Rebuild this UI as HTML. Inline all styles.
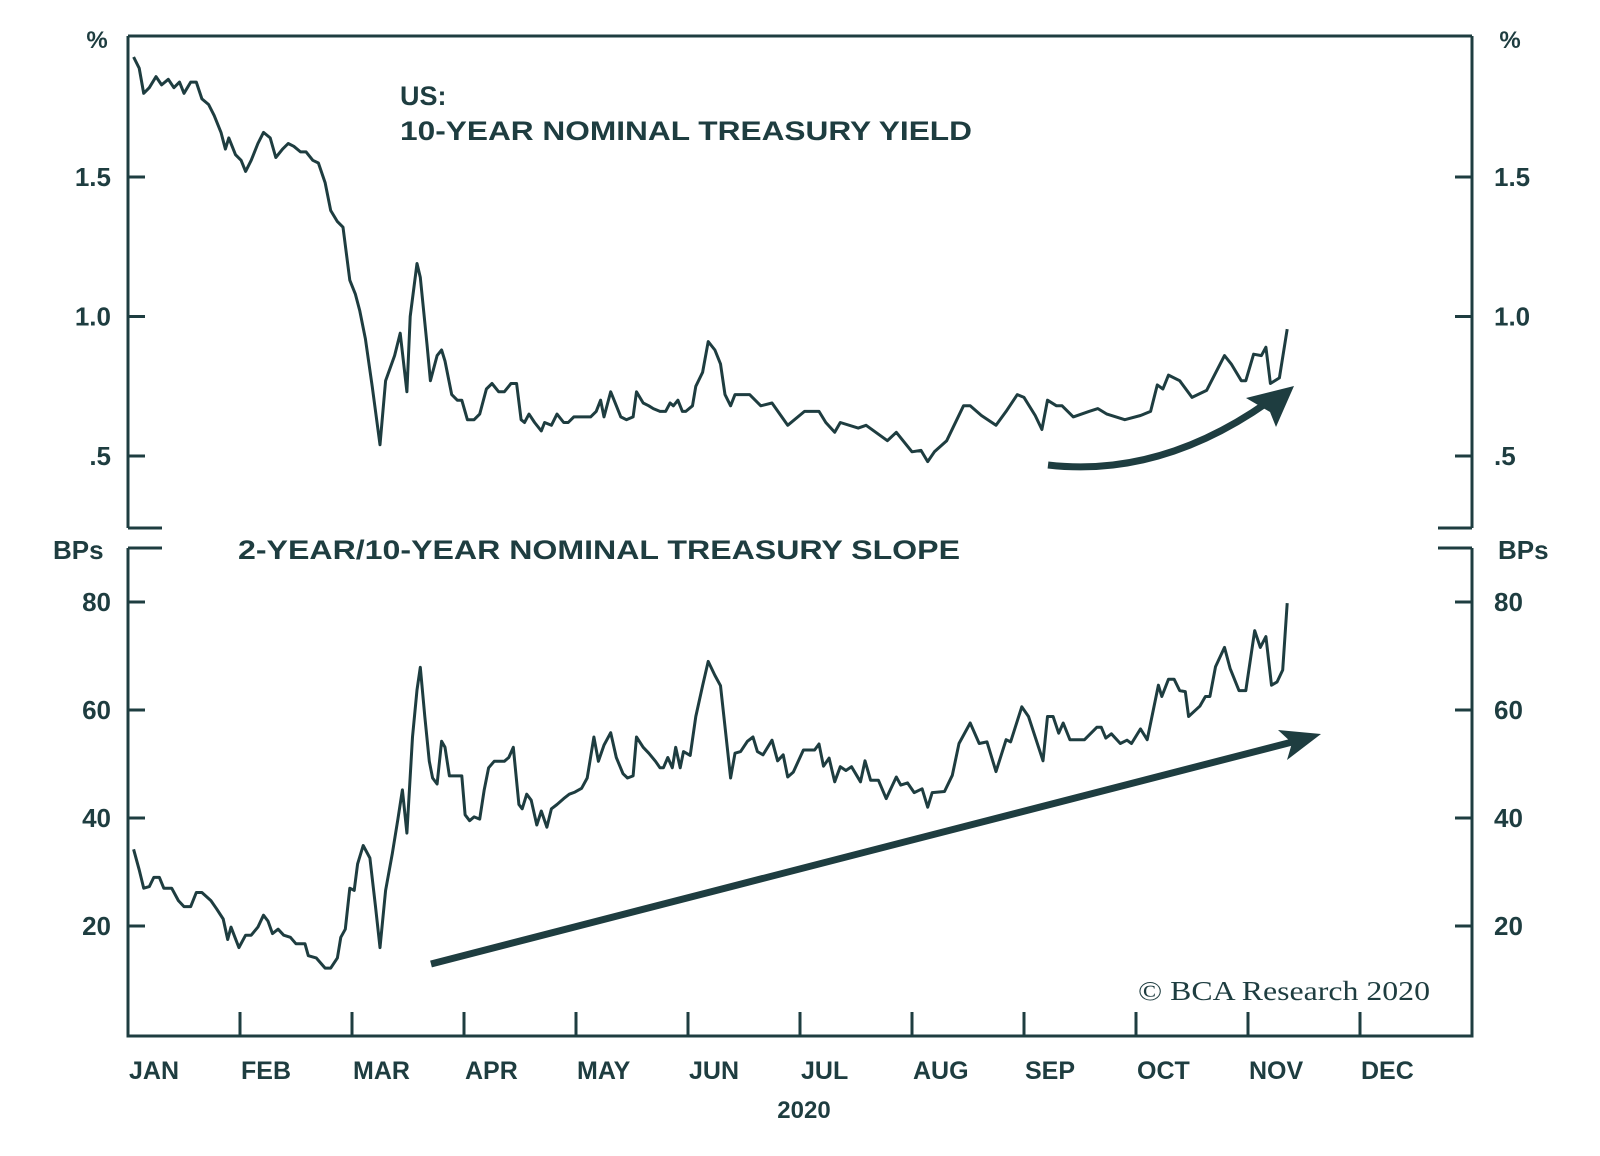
<!DOCTYPE html>
<html><head><meta charset="utf-8"><style>
html,body{margin:0;padding:0;background:#fff;}
svg{display:block;}
text{font-family:"Liberation Sans",sans-serif;fill:#1e3d40;font-weight:bold;}
</style></head><body>
<svg id="chart" width="1600" height="1156" viewBox="0 0 1600 1156" xmlns="http://www.w3.org/2000/svg">
<g id="frame" stroke="#1e3d40" stroke-width="3" fill="none">
  <line x1="128" y1="36" x2="1472" y2="36"/>
  <line x1="128" y1="36" x2="128" y2="528"/>
  <line x1="1472" y1="36" x2="1472" y2="528"/>
  <line x1="128" y1="528" x2="162" y2="528"/>
  <line x1="1438" y1="528" x2="1472" y2="528"/>
  <line x1="128" y1="548" x2="162" y2="548"/>
  <line x1="1438" y1="548" x2="1472" y2="548"/>
  <line x1="128" y1="548" x2="128" y2="1036"/>
  <line x1="1472" y1="548" x2="1472" y2="1036"/>
  <line x1="126.5" y1="1036" x2="1473.5" y2="1036"/>
</g>
<text x="97" y="48" font-size="24" text-anchor="middle">%</text>
<text x="1510" y="48" font-size="24" text-anchor="middle">%</text>
<text x="53" y="559" font-size="26">BPs</text>
<text x="1498" y="559" font-size="26">BPs</text>
<text x="400" y="105" font-size="27">US:</text>
<text x="400" y="140" font-size="27" textLength="572" lengthAdjust="spacingAndGlyphs">10-YEAR NOMINAL TREASURY YIELD</text>
<text x="238" y="559" font-size="27" textLength="722" lengthAdjust="spacingAndGlyphs">2-YEAR/10-YEAR NOMINAL TREASURY SLOPE</text>
<text x="804" y="1118" font-size="24" text-anchor="middle">2020</text>
<text x="1138" y="1000" font-size="27" style="font-family:'Liberation Serif',serif;font-weight:normal" textLength="292" lengthAdjust="spacingAndGlyphs">© BCA Research 2020</text>
<g id="ticks"></g>
<g id="series"></g>
<g id="arrows" fill="#1e3d40" stroke="#1e3d40">
  <path d="M1048,465 Q1160,478 1268,402" fill="none" stroke-width="7"/>
  <polygon points="1294,386 1246,398 1270,412 1276,427" stroke="none"/>
  <line x1="431" y1="964" x2="1300" y2="740" stroke-width="7"/>
  <polygon points="1321,734 1278,730 1292,743 1287,760" stroke="none"/>
</g>
</svg>
<script>
const months = ["JAN","FEB","MAR","APR","MAY","JUN","JUL","AUG","SEP","OCT","NOV","DEC"];
const topTicks = [0.5, 1.0, 1.5];
const topTickLabels = [".5", "1.0", "1.5"];
const botTicks = [20, 40, 60, 80];
const botTickLabels = ["20", "40", "60", "80"];
const yieldDates = [0.05,0.10,0.14,0.19,0.25,0.30,0.36,0.41,0.46,0.50,0.56,0.61,0.66,0.72,0.77,0.83,0.87,0.90,0.96,1.01,1.05,1.10,1.16,1.21,1.27,1.32,1.38,1.43,1.48,1.54,1.59,1.65,1.70,1.76,1.81,1.87,1.92,1.98,2.03,2.07,2.12,2.18,2.25,2.30,2.38,2.43,2.49,2.52,2.58,2.61,2.67,2.70,2.76,2.80,2.83,2.89,2.94,2.98,3.03,3.09,3.14,3.20,3.25,3.31,3.36,3.42,3.47,3.51,3.54,3.58,3.63,3.69,3.72,3.78,3.83,3.89,3.93,3.98,4.05,4.13,4.18,4.22,4.25,4.31,4.34,4.40,4.45,4.51,4.54,4.60,4.65,4.69,4.75,4.80,4.84,4.87,4.91,4.95,4.98,5.04,5.07,5.13,5.18,5.24,5.29,5.33,5.38,5.42,5.47,5.55,5.65,5.75,5.89,6.04,6.17,6.23,6.31,6.36,6.52,6.59,6.78,6.86,7.00,7.08,7.14,7.20,7.31,7.46,7.52,7.62,7.75,7.84,7.94,8.00,8.10,8.16,8.21,8.29,8.34,8.44,8.58,8.66,8.74,8.90,9.04,9.13,9.19,9.24,9.29,9.39,9.50,9.63,9.79,9.85,9.94,9.98,10.05,10.12,10.16,10.20,10.28,10.35];
const yieldValues = [1.93,1.89,1.80,1.82,1.86,1.83,1.85,1.82,1.84,1.80,1.84,1.84,1.78,1.76,1.72,1.66,1.60,1.64,1.58,1.56,1.52,1.56,1.62,1.66,1.64,1.57,1.60,1.62,1.61,1.59,1.59,1.56,1.55,1.48,1.38,1.34,1.32,1.13,1.08,1.02,0.92,0.75,0.54,0.77,0.86,0.94,0.73,1.00,1.19,1.14,0.90,0.77,0.86,0.88,0.84,0.72,0.70,0.70,0.63,0.63,0.65,0.74,0.76,0.73,0.73,0.76,0.76,0.63,0.62,0.65,0.62,0.59,0.62,0.61,0.65,0.62,0.62,0.64,0.64,0.64,0.66,0.70,0.64,0.73,0.70,0.64,0.63,0.64,0.73,0.69,0.68,0.67,0.66,0.66,0.69,0.68,0.70,0.66,0.66,0.68,0.75,0.80,0.91,0.88,0.83,0.72,0.68,0.72,0.72,0.72,0.68,0.69,0.61,0.66,0.66,0.62,0.585,0.62,0.60,0.61,0.555,0.585,0.515,0.52,0.48,0.515,0.555,0.68,0.68,0.645,0.61,0.66,0.72,0.71,0.645,0.595,0.70,0.68,0.68,0.64,0.66,0.67,0.65,0.63,0.645,0.66,0.755,0.74,0.79,0.77,0.71,0.735,0.86,0.83,0.77,0.77,0.865,0.86,0.89,0.76,0.78,0.955];
const slopeDates = [0.05,0.10,0.14,0.19,0.23,0.28,0.32,0.39,0.45,0.50,0.56,0.61,0.66,0.74,0.79,0.85,0.89,0.92,0.99,1.05,1.10,1.16,1.21,1.25,1.29,1.34,1.39,1.45,1.50,1.58,1.61,1.68,1.76,1.81,1.87,1.90,1.94,1.98,2.02,2.05,2.10,2.16,2.21,2.25,2.30,2.36,2.41,2.45,2.49,2.54,2.58,2.61,2.65,2.69,2.72,2.76,2.80,2.83,2.87,2.92,2.98,3.01,3.05,3.09,3.14,3.18,3.22,3.27,3.36,3.40,3.44,3.49,3.52,3.56,3.60,3.65,3.69,3.74,3.78,3.83,3.89,3.94,3.99,4.05,4.10,4.16,4.20,4.25,4.31,4.36,4.42,4.46,4.51,4.54,4.60,4.65,4.71,4.75,4.78,4.82,4.86,4.89,4.93,4.96,5.02,5.07,5.13,5.18,5.24,5.29,5.33,5.38,5.42,5.47,5.53,5.58,5.62,5.67,5.75,5.80,5.85,5.89,5.94,6.03,6.13,6.17,6.21,6.26,6.31,6.36,6.41,6.46,6.54,6.58,6.63,6.70,6.77,6.86,6.90,6.96,7.02,7.09,7.14,7.18,7.29,7.36,7.42,7.52,7.60,7.67,7.75,7.84,7.88,7.98,8.04,8.17,8.21,8.26,8.31,8.35,8.41,8.54,8.65,8.69,8.73,8.78,8.86,8.92,8.96,9.04,9.10,9.20,9.23,9.29,9.34,9.39,9.44,9.47,9.57,9.62,9.66,9.71,9.79,9.84,9.92,9.98,10.06,10.11,10.16,10.21,10.26,10.31,10.35];
const slopeValues = [34.2,30.4,27,27.3,29,29,27,27,24.7,23.6,23.6,26.2,26.2,24.7,23.2,21.3,17.5,19.8,16,18.3,18.3,19.8,22,20.9,18.6,19.4,18.3,17.9,16.7,16.7,14.5,14.1,12.2,12.2,14.1,17.9,19.4,27,26.6,31.5,34.9,32.6,23.6,16,26.6,33.4,39.8,45.2,37.2,55,63.7,67.9,58.8,50.5,47.4,46.3,54.2,53.1,47.8,47.8,47.8,40.6,39.5,40.2,39.8,45.2,49.3,50.5,50.5,51.2,53.1,42.5,41.7,44.4,43.3,38.7,41.3,38.3,41.7,42.5,43.6,44.4,44.8,45.5,47.4,55,50.5,53.5,55.8,51.2,48.2,47.4,47.8,55,53.1,52,50.5,49.3,49.3,51.2,49.3,53.1,49.3,52.3,51.6,58.8,64.5,69,66.4,64.5,56.9,47.4,52,52.3,54.2,55,52.3,51.7,54.4,50.6,51.7,47.6,48.5,52.6,52.6,53.7,49.6,51.1,46.7,49.5,48.8,49.5,46.7,50.6,47.0,47.0,43.6,47.6,46.1,46.5,44.7,45.4,42.0,44.7,44.9,47.9,53.8,57.6,53.8,54.1,48.6,54.5,54.1,60.6,58.8,50.6,58.8,58.8,55.7,57.6,54.5,54.5,56.8,56.8,54.8,55.6,53.8,54.4,53.8,56.5,54.5,64.6,62.5,65.7,65.7,63.6,63.4,58.8,60.7,62.5,62.5,68.0,71.6,67.7,63.6,63.6,74.7,71.6,73.6,64.6,65.2,67.4,79.8];

const NS = "http://www.w3.org/2000/svg";
const xScale = m => 128 + m * 112;
const yTop = v => 316.5 - (v - 1) * 279;
const yBot = v => 602 - (v - 80) * 5.4;
const C = "#1e3d40";
function mk(tag, attrs, parent) {
  const e = document.createElementNS(NS, tag);
  for (const k in attrs) e.setAttribute(k, attrs[k]);
  parent.appendChild(e);
  return e;
}
const tg = document.getElementById("ticks");
topTicks.forEach((v, i) => {
  const y = yTop(v);
  const l1 = mk("line", {x1:128, x2:145, y1:y, y2:y, stroke:C, "stroke-width":3}, tg);
  
  
  const l2 = mk("line", {x1:1455, x2:1472, y1:y, y2:y, stroke:C, "stroke-width":3}, tg);
  
  
  const t1 = mk("text", {x:111, y:y+9, "font-size":26, "text-anchor":"end"}, tg);
  t1.textContent = topTickLabels[i];
  
  
  const t2 = mk("text", {x:1494, y:y+9, "font-size":26}, tg);
  t2.textContent = topTickLabels[i];
  
  
});
botTicks.forEach((v, i) => {
  const y = yBot(v);
  const l1 = mk("line", {x1:128, x2:145, y1:y, y2:y, stroke:C, "stroke-width":3}, tg);
  
  
  const l2 = mk("line", {x1:1455, x2:1472, y1:y, y2:y, stroke:C, "stroke-width":3}, tg);
  
  
  const t1 = mk("text", {x:111, y:y+9, "font-size":26, "text-anchor":"end"}, tg);
  t1.textContent = botTickLabels[i];
  
  
  const t2 = mk("text", {x:1494, y:y+9, "font-size":26}, tg);
  t2.textContent = botTickLabels[i];
  
  
});
months.forEach((m, i) => {
  const x = xScale(i);
  if (i > 0) {
    const l = mk("line", {x1:x, x2:x, y1:1012, y2:1036, stroke:C, "stroke-width":3}, tg);
    
    
  }
  const t = mk("text", {x:x+1, y:1079, "font-size":25}, tg);
  t.textContent = m;
  
  
});
const sg = document.getElementById("series");
const p1 = mk("polyline", {points: yieldDates.map((d,i)=>xScale(d).toFixed(1)+","+yTop(yieldValues[i]).toFixed(1)).join(" "), fill:"none", stroke:C, "stroke-width":3, "stroke-linejoin":"round"}, sg);


const p2 = mk("polyline", {points: slopeDates.map((d,i)=>xScale(d).toFixed(1)+","+yBot(slopeValues[i]).toFixed(1)).join(" "), fill:"none", stroke:C, "stroke-width":3, "stroke-linejoin":"round"}, sg);


</script>
</body></html>
